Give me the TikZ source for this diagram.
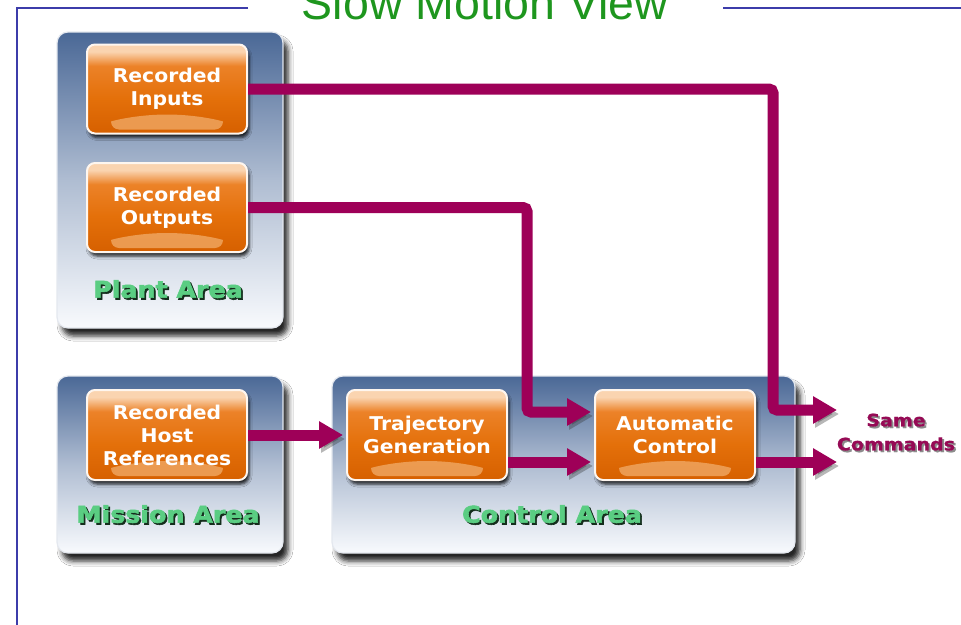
\documentclass[tikz,border=0pt]{standalone}
\usepackage{fontspec}
\setmainfont{DejaVu Sans}
\newfontfamily\titlefont{Liberation Sans}
\newfontfamily\btnfont[FakeStretch=1.07]{DejaVu Sans}
\newfontfamily\areafont[FakeStretch=1.1,FakeBold=2.5]{DejaVu Sans}
\newfontfamily\cmdfont[FakeStretch=1.12,FakeBold=1]{DejaVu Sans}
\usetikzlibrary{arrows.meta,shadows.blur}

\definecolor{frameblue}{RGB}{60,60,170}
\definecolor{titlegreen}{RGB}{30,150,30}
\definecolor{panelTop}{RGB}{74,104,150}
\definecolor{panelBot}{RGB}{248,250,253}
\definecolor{orTop}{RGB}{250,212,176}
\definecolor{orMid2}{RGB}{236,130,40}
\definecolor{orMid}{RGB}{228,112,10}
\definecolor{orBot}{RGB}{214,96,0}
\definecolor{orGlow}{RGB}{240,168,100}
\definecolor{wire}{RGB}{158,0,88}
\definecolor{areagreen}{RGB}{90,205,130}
\definecolor{areadark}{RGB}{20,45,28}
\definecolor{cmdred}{RGB}{150,10,85}

% orange button face: light band on top, deep orange below
\pgfdeclareverticalshading{btnshade}{100bp}{color(0bp)=(orBot); color(25bp)=(orBot);
  color(45bp)=(orMid); color(63bp)=(orMid2); color(71bp)=(orTop); color(100bp)=(orTop)}

% text with a dark drop shadow behind it
\newcommand\embosstext[3]{\leavevmode\rlap{\kern1.8pt\raisebox{-1.8pt}{\color{#2}#3}}{\color{#1}#3}}

\tikzset{
  frameline/.style={draw=frameblue, line width=2.2pt},
  panel/.style={rectangle, rounded corners=11pt, draw=white!85!panelTop, line width=1.2pt,
    top color=panelTop, bottom color=panelBot, middle color=panelTop!42!panelBot,
    blur shadow={shadow xshift=5pt, shadow yshift=-8pt, shadow blur radius=5pt, shadow opacity=85}},
  btn/.style={rectangle, rounded corners=8pt, shading=btnshade, draw=white!80!orTop, line width=2pt,
    minimum width=160pt, minimum height=89pt, inner sep=0pt, text=white, align=center,
    font=\btnfont\bfseries\fontsize{19}{23}\selectfont,
    blur shadow={shadow xshift=2pt, shadow yshift=-4pt, shadow blur radius=3pt, shadow opacity=85},
    path picture={\fill[orGlow, opacity=0.8] ([yshift=4pt]path picture bounding box.south) ++(-56pt,0)
      arc[start angle=180, end angle=0, x radius=56pt, y radius=15pt] -- cycle;}},
  arealabel/.style={font=\areafont\bfseries\fontsize{23}{26}\selectfont, inner sep=0pt},
  conn/.style={draw=wire, line width=11pt, rounded corners=4pt, shorten >=3pt,
    -{Triangle[length=24pt, width=26pt]},
    preaction={draw=black!80, opacity=0.35, transform canvas={xshift=2pt, yshift=-4pt}}}
}

\begin{document}
\begin{tikzpicture}[x=1pt, y=-1pt]
  \useasboundingbox (0,0) rectangle (961,624);
  \clip (0,0) rectangle (961,624);
  \fill[white] (0,0) rectangle (961,624);

  % heading and frame
  \node[font=\titlefont\fontsize{46.5}{50}\selectfont, text=titlegreen, anchor=base, inner sep=0pt]
    (title) at (485,19) {Slow Motion View};
  \draw[frameline] (248,8) -- (17,8) -- (17,640);
  \draw[frameline] (723,8) -- (975,8);

  % area panels
  \node[panel, minimum width=226pt, minimum height=296pt] (plant) at (170,180) {};
  \node[panel, minimum width=226pt, minimum height=177pt] (mission) at (170,464.5) {};
  \node[panel, minimum width=463pt, minimum height=177pt] (control) at (563.5,464.5) {};

  % blocks
  \node[btn] (rin) at (167,89) {Recorded\\Inputs};
  \node[btn] (rout) at (167,207.5) {Recorded\\Outputs};
  \node[btn, minimum height=90pt] (rhost) at (167,435) {Recorded\\Host\\References};
  \node[btn, minimum height=90pt] (traj) at (427,435) {Trajectory\\Generation};
  \node[btn, minimum height=90pt] (auto) at (675,435) {Automatic\\Control};

  % area names
  \node[arealabel] (plantlbl) at (168,290) {\embosstext{areagreen}{areadark}{Plant Area}};
  \node[arealabel] (missionlbl) at (168,515) {\embosstext{areagreen}{areadark}{Mission Area}};
  \node[arealabel] (controllbl) at (552,515) {\embosstext{areagreen}{areadark}{Control Area}};

  % output label
  \node[font=\cmdfont\bfseries\fontsize{17}{24}\selectfont, align=center, inner sep=0pt] (same) at (896,433)
    {\embosstext{cmdred}{black!45}{Same}\\\embosstext{cmdred}{black!45}{Commands}};

  % signal paths
  \coordinate (turnA) at (773,410);
  \coordinate (turnB) at (527,412);
  \coordinate (outA) at (840,410);
  \coordinate (outB) at (840,462);

  \draw[conn] (rin.east) -| (turnA) -- (outA);
  \draw[conn] (rout.east) -| (turnB) -- (auto.west |- turnB);
  \draw[conn] (rhost.east) -- (traj.west);
  \draw[conn] ([yshift=-27pt]traj.east) -- ([yshift=-27pt]auto.west);
  \draw[conn] ([yshift=-27pt]auto.east) -- (outB);
\end{tikzpicture}
\end{document}
